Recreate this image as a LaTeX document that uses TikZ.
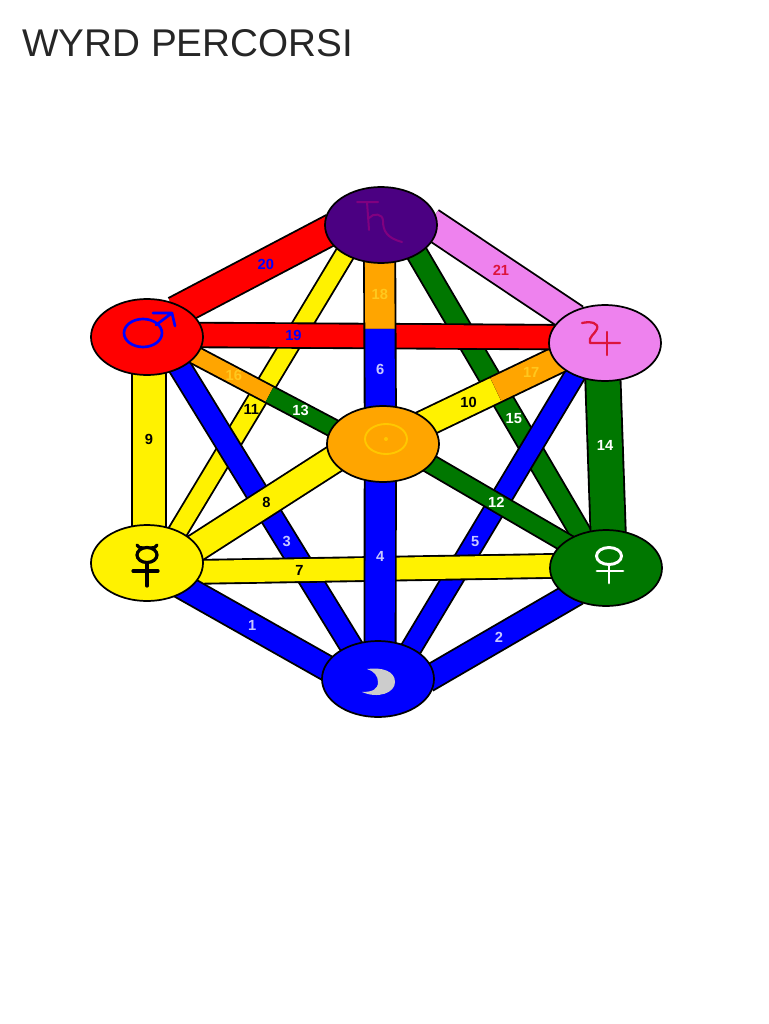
\documentclass[tikz,border=0pt]{standalone}
\usepackage{fontspec}
\setmainfont{Liberation Sans}
\usetikzlibrary{shapes.geometric, positioning, backgrounds, calc}

\definecolor{saturnfill}{HTML}{4B0082}
\definecolor{saturnmark}{HTML}{800080}
\definecolor{venusfill}{HTML}{007700}
\definecolor{jupiterfill}{HTML}{EE82EE}
\definecolor{jupitermark}{HTML}{DC143C}
\definecolor{sunfill}{HTML}{FFA500}
\definecolor{sunmark}{HTML}{FFC800}
\definecolor{lavtext}{HTML}{C8C8FF}
\definecolor{goldtext}{HTML}{FFC81E}

\begin{document}
\begin{tikzpicture}[
    x=0.75pt, y=-0.75pt,
    planet/.style={ellipse, draw=black, line width=1.3pt, inner sep=0pt, minimum width=84pt, minimum height=57pt},
    band/.style={draw=black, line width=1.4pt, double distance=#1, shorten <=-7pt, shorten >=-7pt},
    bandhalf/.style={band=#1, shorten >=0pt},
    num/.style={font=\bfseries\fontsize{11}{11}\selectfont, inner sep=0pt},
    mark/.style={shift={(#1)}, line cap=round, line join=round}
]

\useasboundingbox (0,0) rectangle (768,1024);

\node [anchor=west, inner sep=0pt, text=black!85, font=\fontsize{29}{29}\selectfont] (title) at (22,43) {WYRD PERCORSI};

\node [planet, fill=saturnfill] (saturn) at (381,225) {};
\node [planet, fill=sunfill, below of=saturn, node distance=164.25pt, xshift=1.5pt] (sun) {};
\node [planet, fill=blue, below of=sun, node distance=176.25pt, xshift=-3.75pt] (moon) {};
\node [planet, fill=red, left of=saturn, node distance=175.5pt, yshift=-84pt] (mars) {};
\node [planet, fill=jupiterfill, right of=saturn, node distance=168pt, yshift=-88.5pt] (jupiter) {};
\node [planet, fill=yellow, below of=mars, node distance=169.5pt] (mercury) {};
\node [planet, fill=venusfill, below of=jupiter, node distance=168.75pt, xshift=.75pt] (venus) {};

\coordinate (splitsaturn) at ($(saturn.-92)!.46!(sun.94.5)$);
\coordinate (splitmars) at ($(mars.-21)!.54!(sun.162)$);
\coordinate (splitjupiter) at ($(sun.26)!.53!(jupiter.200)$);

% planet signs
\begin{scope}[mark=saturn, draw=saturnmark, line width=1.5pt]
\draw (-24,-23) -- (-3,-23) (-14,-23) -- (-12,5);
\draw (-12,-7) .. controls (-8,-12) and (2,-12) .. (2,-4) .. controls (2,6) and (6,13) .. (21,17);
\end{scope}
\begin{scope}[mark=sun, draw=sunmark, fill=sunmark, line width=1.4pt]
\draw (3,-5) ellipse (21 and 15);
\fill (3,-5) circle (2);
\end{scope}
\begin{scope}[mark=moon]
\fill [black!20] (-11,-10) .. controls (4,-12) and (17,-8) .. (17,3) .. controls (17,14) and (0,20) .. (-16,13) .. controls (-5,13) and (0,10) .. (0,3) .. controls (0,-3) and (-4,-8) .. (-11,-10) -- cycle;
\end{scope}
\begin{scope}[mark=mars, draw=blue, line width=2pt]
\draw (-4,-4) ellipse (19 and 14);
\draw (9,-12) -- (25,-24) (6,-24) -- (25,-24) -- (28,-11);
\end{scope}
\begin{scope}[mark=jupiter, draw=jupitermark, line width=1.7pt]
\draw (-23,-20) .. controls (-14,-22) and (-6,-20) .. (-8,-14) .. controls (-10,-9) and (-17,-6) .. (-15,0) -- (15,0);
\draw (2,-11) -- (2,12);
\end{scope}
\begin{scope}[mark=mercury, draw=black, line width=2.4pt]
\draw (0,-8) ellipse (10 and 7.5);
\draw (-10,-18) .. controls (-8,-15) and (-6,-15) .. (-4,-15) (10,-18) .. controls (8,-15) and (6,-15) .. (4,-15);
\draw (0,0) -- (0,23) (-14,8) -- (11,8);
\end{scope}
\begin{scope}[mark=venus, draw=white, line width=2.2pt]
\draw (3,-12) ellipse (12.5 and 8.5);
\draw (3,-3.5) -- (3,15) (-9,3) -- (17,3);
\end{scope}

\begin{scope}[on background layer]
% lowest bands first
\path [band=13pt, double=yellow] (saturn.219) -- node[num, pos=.56] (n11) {11} (mercury.46);
\path [band=14.5pt, double=venusfill] (saturn.-39) -- node[num, pos=.59, text=white] (n15) {15} (venus.126);
\path [band=15.5pt, double=blue] (mars.-43) -- node[num, pos=.625, text=lavtext] (n3) {3} (moon.129);
\path [band=14pt, double=blue] (moon.43) -- node[num, pos=.39, text=lavtext] (n5) {5} (jupiter.227);
\path [band=16.5pt, double=yellow] (mercury.-9) -- node[num, pos=.28] (n7) {7} (venus.178);
\path [band=19.5pt, double=yellow] (mercury.18) -- node[num, pos=.51] (n8) {8} (sun.198);
\path [band=12.5pt, double=venusfill] (sun.-23) -- node[num, pos=.49, text=white] (n12) {12} (venus.148);
\path [bandhalf=12pt, double=sunfill] (mars.-21) -- node[num, pos=.51, text=goldtext] (n16) {16} (splitmars);
\path [bandhalf=12pt, double=venusfill] (sun.162) -- node[num, pos=.5, text=white] (n13) {13} (splitmars);
\path [bandhalf=19pt, double=yellow] (sun.26) -- node[num, pos=.59] (n10) {10} (splitjupiter);
\path [bandhalf=19pt, double=sunfill] (jupiter.200) -- node[num, pos=.4, text=goldtext] (n17) {17} (splitjupiter);
\path [band=17pt, double=red] (mars.2) -- node[num, pos=.26, text=blue] (n19) {19} (jupiter.174);
% outer ring
\path [band=17.5pt, double=blue] (mercury.-33) -- node[num, pos=.47, text=lavtext] (n1) {1} (moon.167);
\path [band=17.5pt, double=blue] (moon.4) -- node[num, pos=.48, text=lavtext] (n2) {2} (venus.218);
\path [band=24pt, double=yellow] (mars.-87) -- node[num, pos=.43] (n9) {9} (mercury.87);
\path [band=25pt, double=venusfill] (jupiter.-93) -- node[num, pos=.43, text=white] (n14) {14} (venus.87);
\path [band=21.5pt, double=red] (mars.39) -- node[num, pos=.58, text=blue] (n20) {20} (saturn.188);
\path [band=21.5pt, double=jupiterfill] (saturn.-3) -- node[num, pos=.49, text=jupitermark] (n21) {21} (jupiter.143);
% middle column
\path [bandhalf=22pt, double=sunfill] (saturn.-92) -- node[num, pos=.47, text=goldtext] (n18) {18} (splitsaturn);
\path [bandhalf=22pt, double=blue] (sun.94.5) -- node[num, pos=.47, text=lavtext] (n6) {6} (splitsaturn);
\path [band=22pt, double=blue] (sun.-94.5) -- node[num, pos=.47, text=lavtext] (n4) {4} (moon.87);
\end{scope}

\end{tikzpicture}
\end{document}
